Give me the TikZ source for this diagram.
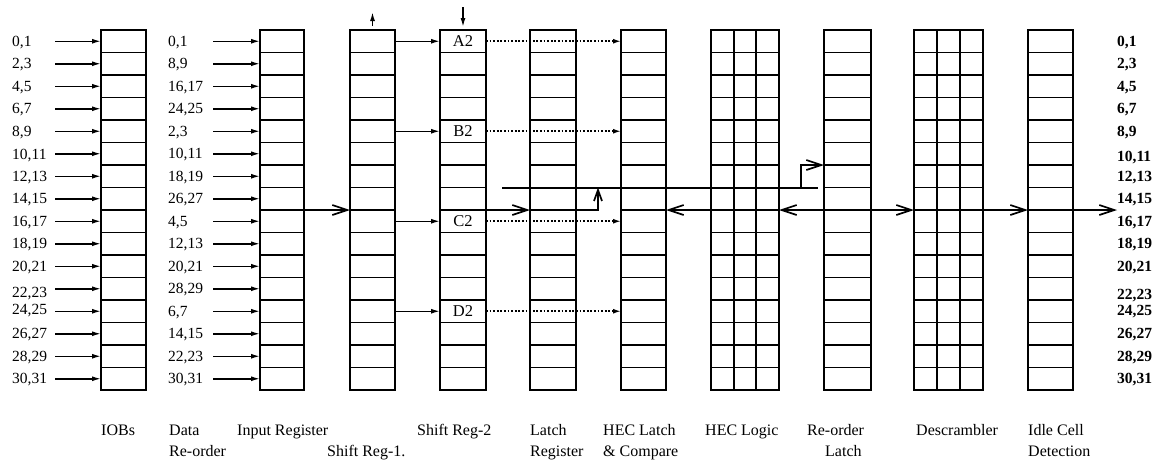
\documentclass[tikz,border=0pt]{standalone}
\usepackage{fontspec}
\setmainfont{Liberation Serif}
\usetikzlibrary{arrows.meta,calc}
\begin{document}
\begin{tikzpicture}[x=1pt,y=-1pt,
  cell/.style={draw, line width=1.5pt, minimum height=22.5pt, inner sep=0pt, outer sep=0pt},
  border/.style={line width=2.1pt},
  subline/.style={line width=1.8pt},
  num/.style={font=\fontsize{15.5}{18}\selectfont, inner sep=0pt, anchor=base west},
  numr/.style={font=\fontsize{15.5}{18}\selectfont\bfseries, inner sep=0pt, anchor=base west},
  lab/.style={font=\fontsize{16}{19}\selectfont, inner sep=0pt, anchor=base west},
  reg/.style={font=\fontsize{16.5}{19}\selectfont, inner sep=0pt},
  inarr/.style={line width=1.5pt, -{Latex[length=9pt,width=5pt]}},
  dotarr/.style={line width=1.8pt, dash pattern=on 1.8pt off 1.8pt, -{Latex[length=8pt,width=5pt]}},
  bigarr/.style={line width=1.7pt, -{Straight Barb[length=15pt,width=10pt,line width=1.7pt]}},
  uparr/.style={line width=1.7pt, -{Straight Barb[length=11pt,width=8pt,line width=1.7pt]}},
  bus/.style={line width=2pt}
]
\useasboundingbox (0,0) rectangle (1160,461);
\fill[white] (0,0) rectangle (1160,461);

% register columns
\foreach \n/\l/\w in {iob/101/45, inr/260/44, sra/350/45, srb/440/46, lat/530/46, hel/621/45, heg/711/68, rol/824/47, dsc/914/69, idl/1028/45} {
  \foreach \r in {1,...,16} {
    \node[cell, minimum width=\w pt] (\n-\r) at ({\l+\w/2},{41.25+22.5*(\r-1)}) {};
  }
  \draw[border] (\n-1.north west) rectangle (\n-16.south east);
}
% sub-columns of HEC Logic and Descrambler
\foreach \n in {heg,dsc} {
  \draw[subline] ($(\n-1.north west)!1/3!(\n-1.north east)$) -- ($(\n-16.south west)!1/3!(\n-16.south east)$);
  \draw[subline] ($(\n-1.north west)!2/3!(\n-1.north east)$) -- ($(\n-16.south west)!2/3!(\n-16.south east)$);
}

% cell texts in Shift Reg-2
\node[reg] (ta) at (srb-1) {A2};
\node[reg] (tb) at (srb-5) {B2};
\node[reg] (tc) at (srb-9) {C2};
\node[reg] (td) at (srb-13) {D2};

% left input labels and arrows (IOBs)
\foreach \t/\c [count=\i] in {{0,1}/41.25,{2,3}/63.75,{4,5}/86.25,{6,7}/108.75,{8,9}/131.25,{10,11}/154.5,{12,13}/176.25,{14,15}/198.75,{16,17}/221.25,{18,19}/243.75,{20,21}/266.25,{22,23}/292.5,{24,25}/309.5,{26,27}/333.75,{28,29}/356.25,{30,31}/378.75} {
  \node[num] (la\i) at (12,\c+5) {\t};
  \coordinate (sa\i) at (55,{41.25+22.5*(\i-1)});
  \draw[inarr] (sa\i) -- (iob-\i.west);
}
% data re-order labels and arrows (Input Register)
\foreach \t [count=\i] in {{0,1},{8,9},{16,17},{24,25},{2,3},{10,11},{18,19},{26,27},{4,5},{12,13},{20,21},{28,29},{6,7},{14,15},{22,23},{30,31}} {
  \node[num] (lb\i) at (168,{46.25+22.5*(\i-1)}) {\t};
  \coordinate (sb\i) at (213,{41.25+22.5*(\i-1)});
  \draw[inarr] (sb\i) -- (inr-\i.west);
}
% right output labels
\foreach \t/\c [count=\i] in {{0,1}/41.25,{2,3}/63.75,{4,5}/86.25,{6,7}/108.75,{8,9}/131.25,{10,11}/156.5,{12,13}/176.5,{14,15}/198.75,{16,17}/221.25,{18,19}/243.75,{20,21}/266.25,{22,23}/294,{24,25}/310.5,{26,27}/333.75,{28,29}/356.25,{30,31}/378.75} {
  \node[numr] (lc\i) at (1117,\c+5) {\t};
}

% control arrows above the shift registers
\coordinate (ua) at (372.5,26);
\coordinate (ub) at (372.5,12);
\draw[inarr] (ua) -- (ub);
\coordinate (da) at (463,7);
\coordinate (db) at (463,27);
\draw[inarr] (da) -- (db);

% Shift Reg-1 -> Shift Reg-2, Shift Reg-2 -> HEC Latch (dotted)
\foreach \r in {1,5,9,13} {
  \draw[inarr] (sra-\r.east) -- (srb-\r.west);
  \draw[dotarr] (srb-\r.east) -- (hel-\r.west);
}

% main data path
\draw[bigarr] (inr-8.south east) -- (sra-8.south west);
\draw[bigarr] (srb-8.south east) -- (lat-8.south west);
\coordinate (up) at (598,187.5);
\draw[uparr] (lat-8.south east) -| (up);
\coordinate (hs) at (502,187.5);
\coordinate (he) at (818,187.5);
\draw[bus] (hs) -- (he);
\coordinate (br) at (801,187.5);
\draw[bigarr] (br) |- (rol-6.south west);
\draw[bigarr] (heg-8.south west) -- (hel-8.south east);
\draw[bigarr] (rol-8.south west) -- (heg-8.south east);
\draw[bigarr] (rol-8.south east) -- (dsc-8.south west);
\draw[bigarr] (dsc-8.south east) -- (idl-8.south west);
\coordinate (out) at (1117,210);
\draw[bigarr] (idl-8.south east) -- (out);

% bottom captions
\node[lab] (c1) at (101,435) {IOBs};
\node[lab] (c2) at (169,435) {Data};
\node[lab] (c2b) at (169,456) {Re-order};
\node[lab] (c3) at (237,435) {Input Register};
\node[lab] (c4) at (327,456) {Shift Reg-1.};
\node[lab] (c5) at (417,435) {Shift Reg-2};
\node[lab] (c6) at (530,435) {Latch};
\node[lab] (c6b) at (530,456) {Register};
\node[lab] (c7) at (603,435) {HEC Latch};
\node[lab] (c7b) at (603,456) {\& Compare};
\node[lab] (c8) at (705,435) {HEC Logic};
\node[lab] (c9) at (807,435) {Re-order};
\node[lab] (c9b) at (825,456) {Latch};
\node[lab] (c10) at (916,435) {Descrambler};
\node[lab] (c11) at (1028,435) {Idle Cell};
\node[lab] (c11b) at (1028,456) {Detection};
\end{tikzpicture}
\end{document}
